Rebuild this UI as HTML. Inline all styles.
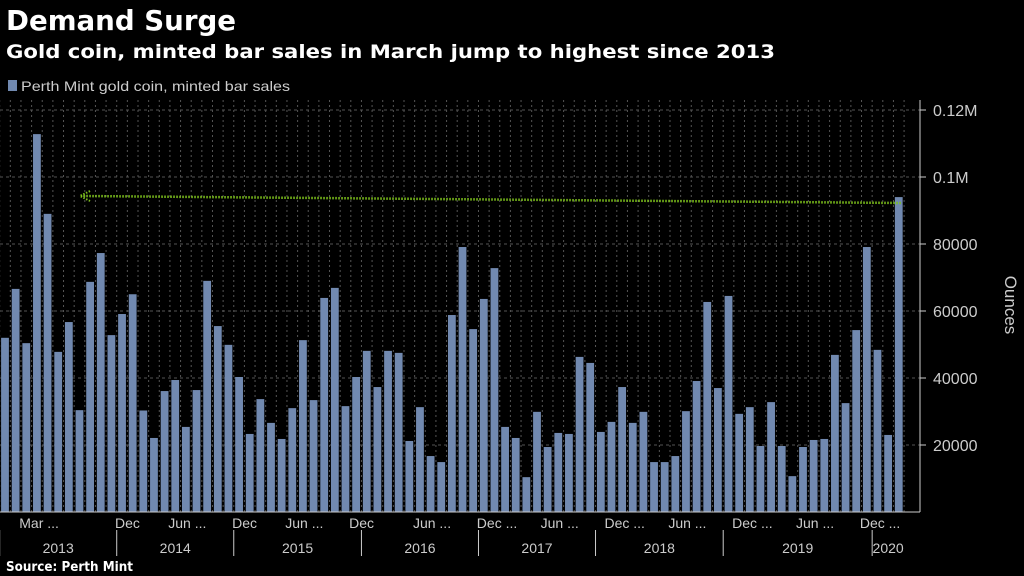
<!DOCTYPE html>
<html><head><meta charset="utf-8"><style>
body{margin:0;background:#000;width:1024px;height:576px;overflow:hidden;font-family:"Liberation Sans",sans-serif;color:#fff}
</style></head><body>
<svg width="1024" height="576" style="position:absolute;left:0;top:0">
<text x="6" y="30" font-size="28" font-weight="bold" fill="#fff" textLength="230" lengthAdjust="spacingAndGlyphs" font-family="DejaVu Sans, sans-serif">Demand Surge</text>
<text x="6" y="58" font-size="19" font-weight="bold" fill="#fff" textLength="769" lengthAdjust="spacingAndGlyphs" font-family="DejaVu Sans, sans-serif">Gold coin, minted bar sales in March jump to highest since 2013</text>
<rect x="8" y="80" width="9" height="11" fill="#7189b0"/>
<text x="21" y="91" font-size="14" fill="#ccc" textLength="269" lengthAdjust="spacingAndGlyphs">Perth Mint gold coin, minted bar sales</text>
<g id="grid"></g><g id="bars"></g><g id="axis"></g>
<text x="1005" y="305" font-size="17" fill="#ccc" text-anchor="middle" transform="rotate(90 1005 305)">Ounces</text>
<text x="6" y="571" font-size="13" font-weight="bold" fill="#fff" textLength="127" lengthAdjust="spacingAndGlyphs" font-family="DejaVu Sans, sans-serif">Source: Perth Mint</text>
</svg>
<script>
const values=[52,66.6,50.4,112.8,89,47.8,56.7,30.4,68.7,77.3,52.8,59.1,65,30.3,22.1,36.1,39.4,25.4,36.4,69,55.5,49.9,40.3,23.3,33.7,26.6,21.8,31,51.3,33.4,63.9,66.9,31.6,40.3,48.1,37.3,48.1,47.5,21.2,31.3,16.7,14.9,58.8,79.1,54.6,63.6,72.8,25.4,22.1,10.4,29.9,19.4,23.6,23.3,46.3,44.5,23.9,26.9,37.3,26.6,29.9,14.9,14.9,16.7,30.1,39.1,62.7,37,64.5,29.3,31.3,19.7,32.8,19.7,10.7,19.4,21.5,21.8,46.9,32.5,54.3,79.1,48.4,23,94];
const yTicks=[20000,40000,60000,80000,100000,120000];
const yTickLabels=["20000","40000","60000","80000","0.1M","0.12M"];
const monthIdx=[2,11,16,22,27,33,39,45,51,57,63,69,75,81];
const monthLabels=["Mar ...","Dec","Jun ...","Dec","Jun ...","Dec","Jun ...","Dec ...","Jun ...","Dec ...","Jun ...","Dec ...","Jun ...","Dec ..."];
const years=["2013","2014","2015","2016","2017","2018","2019","2020"];
const yearStart=[0,11,22,34,45,56,68,82];
const yearEnd=[11,22,34,45,56,68,82,85];
const NS="http://www.w3.org/2000/svg";
const X0=5,P=10.64,Y0=512,K=67/20000;
const x=i=>X0+i*P, y=v=>Y0-v*K;
function mk(t,a,p){const e=document.createElementNS(NS,t);for(const k in a)e.setAttribute(k,a[k]);p.appendChild(e);return e;}
const g=document.getElementById('grid'),b=document.getElementById('bars'),ax=document.getElementById('axis');
for(let i=0;i<=values.length;i++){const l=mk('line',{x1:x(i)-P/2,x2:x(i)-P/2,y1:100,y2:Y0,stroke:'#555','stroke-dasharray':'2,3','stroke-width':1},g);

}
yTicks.forEach((t,i)=>{const l=mk('line',{x1:0,x2:920,y1:y(t),y2:y(t),stroke:'#555','stroke-dasharray':'3,3'},g);


const tk=mk('line',{x1:920,x2:926,y1:y(t),y2:y(t),stroke:'#ccc'},ax);


const tx=mk('text',{x:933,y:y(t)+6,'font-size':16,fill:'#ccc'},ax);tx.textContent=yTickLabels[i];

});
values.forEach((v,i)=>{const r=mk('rect',{x:x(i)-3.9,y:y(v*1000),width:7.8,height:v*1000*K,fill:'#7189b0'},b);

});
let l=mk('line',{x1:920,x2:920,y1:100,y2:Y0,stroke:'#ccc'},ax);


l=mk('line',{x1:0,x2:920,y1:Y0,y2:Y0,stroke:'#ccc'},ax);


monthIdx.forEach((m,i)=>{const t=mk('text',{x:x(m)-7,y:528,'font-size':14,fill:'#ccc'},ax);t.textContent=monthLabels[i];

});
years.forEach((yr,i)=>{const a=x(yearStart[i])-P/2,e=x(yearEnd[i])-P/2;
const s=mk('line',{x1:a,x2:a,y1:530,y2:556,stroke:'#ccc'},ax);


const t=mk('text',{x:(a+e)/2,y:553,'font-size':14,fill:'#ccc','text-anchor':'middle'},ax);t.textContent=yr;

});
const last=values.length-1;
const ar=mk('line',{x1:x(last)+2,y1:203,x2:82,y2:196,stroke:'#7ec21c','stroke-width':2.5,'stroke-dasharray':'1.5,1.5'},ax);


const ah=mk('path',{d:'M90 191 L80 196 L90 201',fill:'none',stroke:'#7ec21c','stroke-width':2,'stroke-dasharray':'1.5,1.5'},ax);


</script>
</body></html>
